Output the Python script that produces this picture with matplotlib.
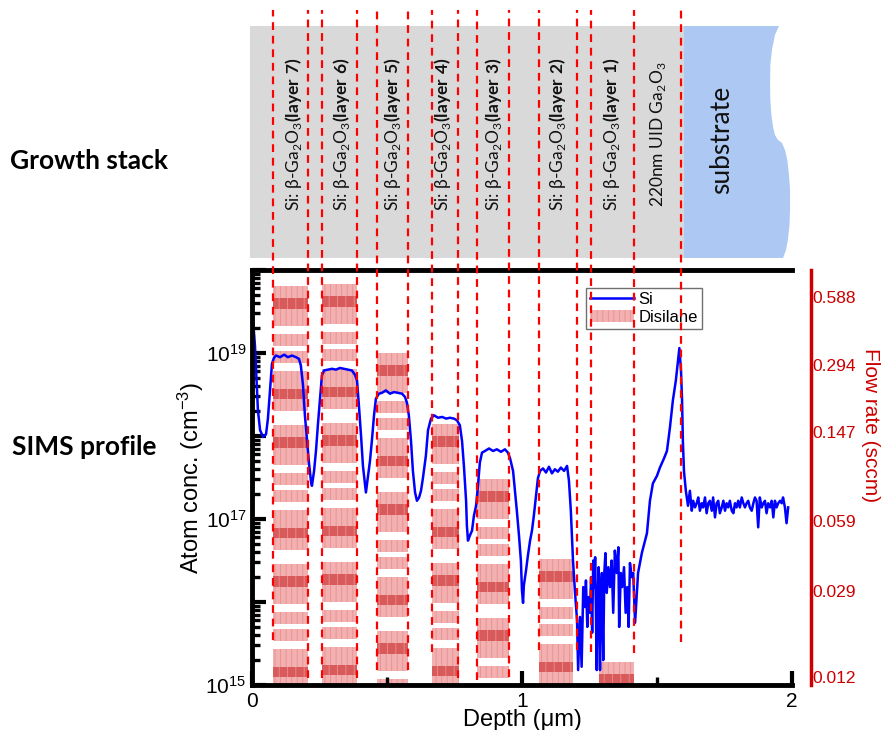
import matplotlib.pyplot as plt
import numpy as np
from matplotlib.lines import Line2D
from matplotlib.patches import Patch, Rectangle, Polygon
from matplotlib.ticker import FixedLocator, FixedFormatter, LogLocator, NullFormatter, NullLocator

plt.rcParams['font.family'] = ['Liberation Sans', 'DejaVu Sans']
plt.rcParams['mathtext.fontset'] = 'custom'
plt.rcParams['mathtext.rm'] = 'Lato'
plt.rcParams['mathtext.bf'] = 'Lato:bold'
plt.rcParams['mathtext.sf'] = 'Liberation Sans'
plt.rcParams['hatch.linewidth'] = 0.6

# ---- SIMS Si profile (depth in um, log10 of atom conc. in cm^-3) ----
depth_layers = [0.002, 0.004, 0.011, 0.017, 0.022, 0.030, 0.041, 0.052, 0.059, 0.067, 0.074, 0.081,
                0.089, 0.104, 0.119, 0.133, 0.148, 0.163, 0.174,
                0.181, 0.189, 0.196, 0.204, 0.211, 0.219, 0.222, 0.230, 0.237, 0.244, 0.252, 0.259, 0.267,
                0.281, 0.296, 0.311, 0.326, 0.341, 0.356, 0.370, 0.381,
                0.389, 0.396, 0.404, 0.411, 0.419, 0.422, 0.430, 0.437, 0.444, 0.452, 0.459, 0.470,
                0.481, 0.496, 0.511, 0.526, 0.541, 0.556, 0.567,
                0.574, 0.581, 0.589, 0.596, 0.604, 0.611, 0.619, 0.626, 0.633, 0.644, 0.652, 0.663,
                0.674, 0.689, 0.704, 0.719, 0.733, 0.748, 0.759,
                0.770, 0.778, 0.785, 0.793, 0.796, 0.800, 0.807, 0.815, 0.822, 0.830, 0.837, 0.844, 0.852,
                0.863, 0.878, 0.893, 0.907, 0.922, 0.937, 0.948,
                0.956, 0.967, 0.974, 0.981, 0.989, 0.996, 1.000, 1.004, 1.007, 1.015, 1.022, 1.030, 1.037,
                1.044, 1.052, 1.059, 1.067,
                1.078, 1.089, 1.100, 1.111, 1.122, 1.133, 1.144, 1.156, 1.167,
                1.174, 1.181, 1.189, 1.196, 1.204]
log_layers = [19.75, 19.39, 19.09, 18.67, 18.31, 18.07, 17.99, 18.02, 18.21, 18.57, 18.87, 18.94,
              18.97, 18.95, 18.98, 18.95, 18.97, 18.95, 18.93,
              18.85, 18.61, 18.25, 17.94, 17.68, 17.44, 17.40, 17.58, 17.82, 18.13, 18.45, 18.73, 18.79,
              18.80, 18.81, 18.80, 18.82, 18.81, 18.80, 18.79, 18.74,
              18.67, 18.37, 18.00, 17.64, 17.40, 17.32, 17.52, 17.70, 17.94, 18.25, 18.45, 18.51,
              18.52, 18.55, 18.51, 18.53, 18.52, 18.51, 18.47,
              18.40, 18.25, 17.94, 17.58, 17.32, 17.22, 17.26, 17.34, 17.49, 17.76, 18.07, 18.21,
              18.25, 18.22, 18.23, 18.21, 18.22, 18.21, 18.19,
              18.13, 17.94, 17.64, 17.22, 16.92, 16.74, 16.80, 16.86, 17.04, 17.16, 17.40, 17.68, 17.80,
              17.82, 17.85, 17.82, 17.84, 17.81, 17.84, 17.80,
              17.73, 17.58, 17.34, 17.10, 16.80, 16.50, 16.14, 15.99, 16.20, 16.38, 16.56, 16.74, 16.86,
              17.04, 17.28, 17.49, 17.58,
              17.61, 17.56, 17.63, 17.55, 17.60, 17.57, 17.62, 17.58, 17.64,
              17.46, 17.10, 16.50, 16.14, 15.78]

depth_uid = [1.208, 1.215, 1.221, 1.227, 1.233, 1.237, 1.242, 1.246, 1.252, 1.256, 1.260, 1.264, 1.268, 1.271,
             1.277, 1.280, 1.284, 1.289, 1.293, 1.296, 1.301, 1.305, 1.309, 1.314, 1.320, 1.326, 1.332, 1.338,
             1.344, 1.351, 1.357, 1.360, 1.366, 1.371, 1.378, 1.384, 1.390, 1.395, 1.400, 1.406, 1.412, 1.419,
             1.430, 1.444, 1.456, 1.463, 1.474, 1.485, 1.500, 1.511, 1.526, 1.537, 1.548, 1.559, 1.570,
             1.578, 1.583, 1.589, 1.593, 1.596, 1.600, 1.607, 1.615]
log_uid = [15.18, 15.82, 15.22, 16.18, 15.94, 16.26, 15.70, 16.06, 15.87, 16.30, 15.63, 16.50, 16.18, 16.54,
           15.18, 16.02, 16.42, 15.18, 16.18, 16.35, 15.30, 16.35, 16.59, 16.11, 16.42, 16.18, 16.50, 15.87,
           16.62, 16.35, 16.66, 15.70, 16.35, 16.18, 16.42, 15.87, 16.18, 15.70, 16.47, 16.30, 16.35, 15.75,
           16.35, 16.59, 16.74, 16.83, 17.22, 17.43, 17.52, 17.62, 17.73, 17.82, 18.10, 18.43, 18.67,
           18.91, 19.06, 18.79, 18.43, 17.94, 17.58, 17.34, 17.16]

depth_sub = [1.622, 1.629, 1.634, 1.641, 1.647, 1.653, 1.659, 1.666, 1.671, 1.678, 1.684, 1.690, 1.696, 1.703,
             1.708, 1.715, 1.721, 1.727, 1.733, 1.740, 1.746, 1.752, 1.758, 1.764, 1.770, 1.777, 1.783, 1.789,
             1.795, 1.801, 1.807, 1.814, 1.820, 1.826, 1.832, 1.838, 1.844, 1.851, 1.857, 1.863, 1.869, 1.875,
             1.881, 1.888, 1.894, 1.900, 1.906, 1.912, 1.919, 1.925, 1.931, 1.937, 1.943, 1.949, 1.956, 1.962,
             1.967, 1.974, 1.980, 1.986]
log_sub = [17.34, 17.10, 17.22, 17.14, 17.19, 17.26, 17.10, 17.19, 17.14, 17.26, 17.07, 17.19, 17.22, 17.10,
           17.26, 17.02, 17.19, 17.22, 17.07, 17.14, 17.22, 17.10, 17.19, 17.14, 17.22, 17.10, 17.07, 17.19,
           17.14, 17.22, 17.14, 17.26, 17.19, 17.14, 17.19, 17.22, 17.14, 17.10, 17.19, 17.26, 17.22, 16.90,
           17.26, 17.14, 17.19, 17.22, 17.07, 17.19, 17.14, 17.22, 17.02, 17.22, 17.14, 17.19, 17.22, 17.19,
           17.26, 17.14, 16.95, 17.14]

si_depth = np.array(depth_layers + depth_uid + depth_sub)
si_conc = 10.0 ** np.array(log_layers + log_uid + log_sub)

# ---- disilane flow per doped layer (sccm) ----
bar_left = [0.078, 0.259, 0.463, 0.667, 0.833, 1.063, 1.285]
bar_right = [0.207, 0.389, 0.578, 0.767, 0.952, 1.189, 1.415]
flow_sccm = [0.66, 0.67, 0.33, 0.16, 0.091, 0.040, 0.014]
flow_ticks = [0.012, 0.029, 0.059, 0.147, 0.294, 0.588]
flow_lim = (0.01105, 0.774)

# ---- dashed markers (depth um, lower end in cm^-3) ----
dash_x = [0.078, 0.207, 0.259, 0.389, 0.463, 0.578, 0.667, 0.763, 0.833, 0.952, 1.063, 1.204, 1.256, 1.415, 1.589]
dash_bottom = 10.0 ** np.array([15.54, 15.08, 15.08, 15.08, 15.18, 15.18, 15.40, 15.08, 15.06, 15.10,
                                15.42, 15.42, 15.40, 15.38, 15.52])

# ---- growth stack ----
stack_x = [0.152, 0.333, 0.522, 0.707, 0.893, 1.130, 1.333, 1.504]
stack_labels = [r'Si: β-Ga$_2$O$_3\mathbf{(layer\ 7)}$',
                r'Si: β-Ga$_2$O$_3\mathbf{(layer\ 6)}$',
                r'Si: β-Ga$_2$O$_3\mathbf{(layer\ 5)}$',
                r'Si: β-Ga$_2$O$_3\mathbf{(layer\ 4)}$',
                r'Si: β-Ga$_2$O$_3\mathbf{(layer\ 3)}$',
                r'Si: β-Ga$_2$O$_3\mathbf{(layer\ 2)}$',
                r'Si: β-Ga$_2$O$_3\mathbf{(layer\ 1)}$',
                r'220nm UID Ga$_2$O$_3$']
uid_end = 1.6

y_tick_vals = [1e15, 1e16, 1e17, 1e18, 1e19, 1e20]
y_tick_labels = [r'$\mathsf{10^{15}}$', '', r'$\mathsf{10^{17}}$', '', r'$\mathsf{10^{19}}$', '']

red = '#cc0000'
pink = '#f2b0b0'
dark_pink = '#d95a5a'

fig = plt.figure(figsize=(8.82, 7.30), dpi=100)
ax = fig.add_axes([0.2857, 0.0616, 0.6122, 0.5685])
ax2 = ax.twinx()
ax.set_zorder(ax2.get_zorder() + 1)
ax.patch.set_visible(False)

# Si profile
ax.plot(si_depth, si_conc, color='#0000ff', lw=1.8)
ax.set_xlim(0, 2)
ax.set_yscale('log')
ax.set_ylim(1e15, 1e20)

ax.yaxis.set_major_locator(FixedLocator(y_tick_vals))
ax.yaxis.set_major_formatter(FixedFormatter(y_tick_labels))
ax.yaxis.set_minor_locator(LogLocator(base=10, subs=np.arange(2, 10), numticks=20))
ax.yaxis.set_minor_formatter(NullFormatter())
ax.set_xticks([0, 1, 2])
ax.set_xticklabels(['0', '1', '2'])
ax.set_xticks([0.5, 1.5], minor=True)
ax.tick_params(axis='both', which='major', direction='in', length=10, width=3, labelsize=15)
ax.tick_params(axis='both', which='minor', direction='in', length=6, width=2.4)
ax.tick_params(axis='y', which='major', pad=4)
ax.tick_params(axis='x', which='major', pad=5)
for s in ['left', 'top', 'bottom']:
    ax.spines[s].set_linewidth(3.5)
ax.spines['right'].set_visible(False)

ax.set_xlabel('Depth (μm)', fontsize=17)
ax.xaxis.set_label_coords(0.5, -0.057)
ax.set_ylabel(r'Atom conc. ($\mathsf{cm^{-3}}$)', fontsize=17)
ax.yaxis.set_label_coords(-0.085, 0.5)

# flow-rate axis
ax2.set_yscale('log')
ax2.set_ylim(*flow_lim)
ax2.yaxis.set_major_locator(FixedLocator(flow_ticks))
ax2.yaxis.set_major_formatter(FixedFormatter(['%.3f' % v for v in flow_ticks]))
ax2.yaxis.set_minor_locator(NullLocator())
ax2.tick_params(axis='y', length=0, labelsize=12.5, labelcolor=red, pad=1)
for s in ['left', 'top', 'bottom']:
    ax2.spines[s].set_visible(False)
ax2.spines['right'].set_position(('outward', 14))
ax2.spines['right'].set_color(red)
ax2.spines['right'].set_linewidth(2.5)
ax2.set_ylabel('Flow rate (sccm)', fontsize=15, color=red, rotation=270, va='bottom')
ax2.yaxis.set_label_coords(1.128, 0.627)

# disilane bars, drawn as striped blocks from the bar top downwards
H = 415.0
period = 139.0 / H
light_bands = [(0, 40), (48, 60), (65, 77), (85, 125)]
dark_bands = [(12, 23), (103, 113)]
trans = ax2.get_xaxis_transform()
lo, hi = np.log10(flow_lim[0]), np.log10(flow_lim[1])
for x0, x1, f in zip(bar_left, bar_right, flow_sccm):
    t = (np.log10(f) - lo) / (hi - lo)
    for k in range(5):
        for bands, col, hatch in [(light_bands, pink, '|||'), (dark_bands, dark_pink, '||')]:
            for a, b in bands:
                ytop = t - k * period - a / H
                ybot = max(t - k * period - b / H, 0.0)
                if ytop <= 0:
                    continue
                ax2.add_patch(Rectangle((x0, ybot), x1 - x0, ytop - ybot, transform=trans,
                                        facecolor=col, edgecolor='#e89090', hatch=hatch, lw=0))

# legend
handles = [Line2D([], [], color='#0000ff', lw=1.8),
           Patch(facecolor=pink, edgecolor='#e89090', hatch='|||', lw=0)]
leg = ax.legend(handles, ['Si', 'Disilane'], loc='upper left', bbox_to_anchor=(0.619, 0.957),
                borderaxespad=0, fontsize=12, fancybox=False, edgecolor='#707070', framealpha=1,
                handlelength=2.6, handletextpad=0.3, labelspacing=0.15, borderpad=0.25)
leg.get_frame().set_linewidth(1.0)

# growth stack panel
axs = fig.add_axes([0.2857, 0.6466, 0.6122, 0.3178])
axs.set_xlim(0, 2)
axs.set_ylim(0, 1)
axs.axis('off')
axs.add_patch(Rectangle((-0.0074, 0), uid_end + 0.0074, 1, facecolor='#d9d9d9', lw=0, clip_on=False))
edge_x = [1.952, 1.937, 1.926, 1.920, 1.919, 1.920, 1.924, 1.930, 1.937, 1.948, 1.963, 1.974,
          1.983, 1.989, 1.993, 1.993, 1.991, 1.985, 1.978, 1.967]
edge_y = [1.0, 0.961, 0.897, 0.832, 0.754, 0.681, 0.616, 0.565, 0.530, 0.509, 0.496, 0.466,
          0.422, 0.358, 0.293, 0.207, 0.142, 0.078, 0.034, 0.0]
sub_pts = [(uid_end, 0), (uid_end, 1)] + list(zip(edge_x, edge_y))
axs.add_patch(Polygon(sub_pts, closed=True, facecolor='#adc9f3', lw=0, clip_on=False))
for xc, lbl in zip(stack_x, stack_labels):
    axs.text(xc, 0.534, lbl, rotation=90, ha='center', va='center', fontsize=12.5,
             family=['Lato', 'DejaVu Sans'], color='#111111')
axs.text(1.741, 0.509, 'substrate', rotation=90, ha='center', va='center', fontsize=19,
         family=['Lato', 'DejaVu Sans'], color='#111111')

fig.text(0.0113, 1 - 161 / 730, 'Growth stack', fontsize=19, fontweight='bold',
         family=['Lato', 'DejaVu Sans'], va='center', ha='left')
fig.text(0.0136, 1 - 447 / 730, 'SIMS profile', fontsize=19, fontweight='bold',
         family=['Lato', 'DejaVu Sans'], va='center', ha='left')

# red dashed markers running from the top of the figure into the profile
top_val = ax.transData.inverted().transform(fig.transFigure.transform((0, 0.986)))[1]
for x, yb in zip(dash_x, dash_bottom):
    fig.add_artist(Line2D([x, x], [yb, top_val], transform=ax.transData, color='#ff0000',
                          lw=1.6, dashes=(3.5, 2.6), zorder=10))

fig.savefig('out.png', dpi=100)
